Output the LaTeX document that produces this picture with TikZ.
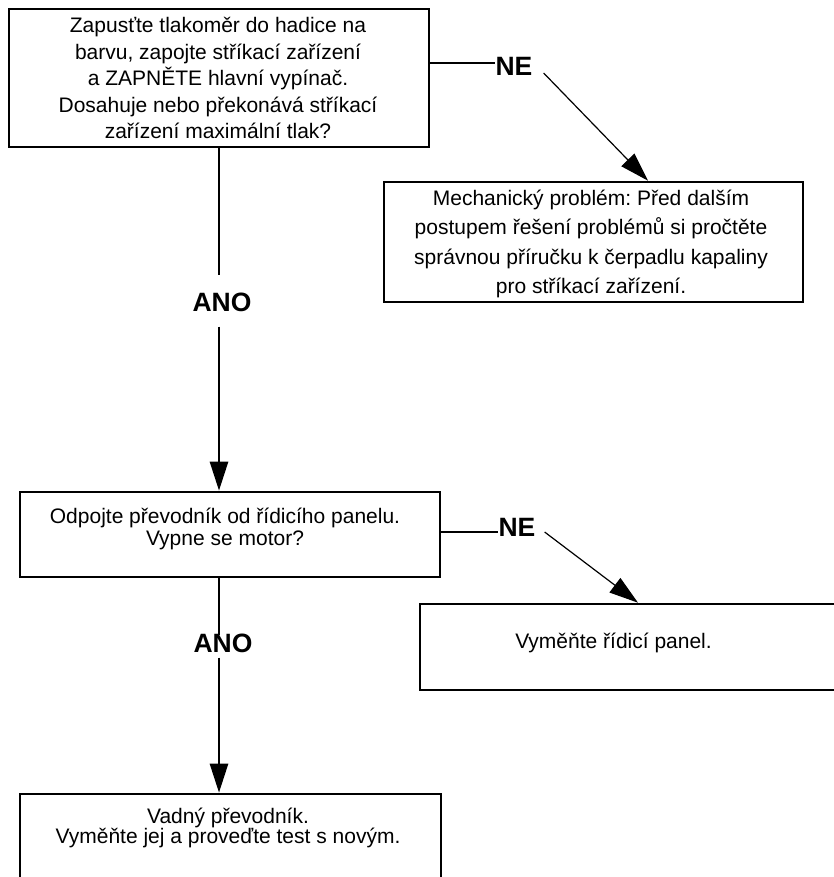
\documentclass[tikz,border=0pt]{standalone}
\usepackage{fontspec}
\setmainfont{Liberation Sans}
\usetikzlibrary{arrows.meta}
\frenchspacing
\begin{document}
\begin{tikzpicture}[x=1pt,y=-1pt,
  box/.style={draw, line width=2.6pt, inner sep=0pt},
  txt/.style={align=center, inner sep=0pt, font=\fontsize{21}{#1}\selectfont},
  lbl/.style={font=\bfseries\fontsize{26.5}{30}\selectfont, inner sep=0pt},
  conn/.style={line width=2.6pt},
  arr/.style={line width=2.6pt, -{Triangle[length=29pt,width=18pt]}},
  darr/.style={line width=1.2pt, -{Triangle[length=29pt,width=18pt]}}]
\useasboundingbox (0,0) rectangle (834,877);
\clip (0,0) rectangle (834,877);
\coordinate (spine) at (219,0);
% boxes
\node[box, minimum width=420pt, minimum height=138pt] (b1) at (219,78) {};
\node[box, minimum width=419pt, minimum height=120pt] (b2) at (593.5,242) {};
\node[box, minimum width=420pt, minimum height=85pt] (b3) at (230,534.5) {};
\node[box, minimum width=450pt, minimum height=86pt] (b4) at (645,647) {};
\node[box, minimum width=421pt, minimum height=126pt] (b5) at (230.5,857) {};
% texts
\node[txt=26.5] (t1) at (218,78) {Zapusťte tlakoměr do hadice na\\barvu, zapojte stříkací zařízení\\a ZAPNĚTE hlavní vypínač.\\Dosahuje nebo překonává stříkací\\zařízení maximální tlak?};
\node[txt=29.5] (t2) at (591,244) {Mechanický problém: Před dalším\\postupem řešení problémů si pročtěte\\správnou příručku k čerpadlu kapaliny\\pro stříkací zařízení.};
\node[txt=22] (t3) at (225,529) {Odpojte převodník od řídicího panelu.\\Vypne se motor?};
\node[txt=22] (t4) at (613.5,643) {Vyměňte řídicí panel.};
\node[txt=20.5] (t5) at (228,828) {Vadný převodník.\\Vyměňte jej a proveďte test s novým.};
% labels
\node[lbl] (ne1) at (514,66) {NE};
\node[lbl] (ano1) at (222,302) {ANO};
\node[lbl] (ne2) at (517,527) {NE};
\node[lbl] (ano2) at (223,643) {ANO};
% connectors
\path ([yshift=3pt]ne1.west) coordinate (ne1w);
\draw[conn] (b1.east |- ne1w) -- (ne1w);
\draw[darr] ([xshift=11pt,yshift=-7pt]ne1.east) -- ([xshift=54.5pt]b2.north);
\draw[conn] (spine |- b1.south) -- ([yshift=17pt]spine |- ano1.north);
\draw[arr] ([yshift=-15pt]spine |- ano1.south) -- (spine |- b3.north);
\path ([yshift=-5pt]ne2.west) coordinate (ne2w);
\draw[conn] (b3.east |- ne2w) -- (ne2w);
\draw[darr] ([xshift=9pt,yshift=-5pt]ne2.east) -- ([xshift=-7pt]b4.north);
\draw[conn] (spine |- b3.south) -- ([yshift=-2pt]spine |- ano2.north);
\draw[arr] ([yshift=-5pt]spine |- ano2.south) -- (spine |- b5.north);
\end{tikzpicture}
\end{document}
